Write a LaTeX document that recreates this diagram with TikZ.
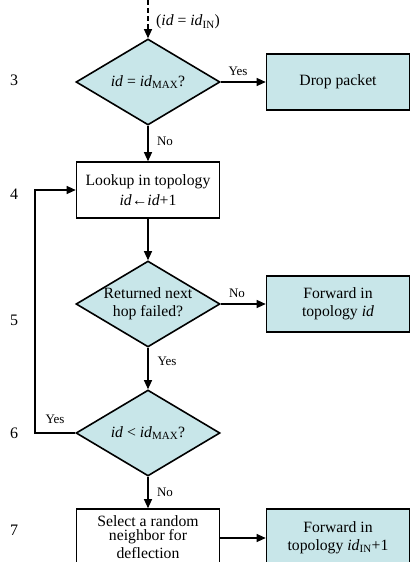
\documentclass[tikz,border=0pt]{standalone}
\usepackage{fontspec}
\setmainfont{Liberation Serif}
\usetikzlibrary{shapes.geometric,arrows.meta}
\definecolor{boxfill}{RGB}{200,230,233}
\begin{document}
\begin{tikzpicture}[x=1pt,y=-1pt,
  every node/.style={font=\fontsize{15.7}{18}\selectfont},
  proc/.style={draw, line width=1.6pt, minimum width=143pt, minimum height=56pt, inner sep=0pt, align=center},
  act/.style={proc, fill=boxfill},
  dec/.style={draw, line width=1.6pt, fill=boxfill, diamond, aspect=1.66, minimum width=144pt, minimum height=86pt, inner sep=-2pt, align=center},
  conn/.style={line width=1.1pt, -{Triangle[length=9pt,width=8pt]}},
  lbl/.style={font=\fontsize{13}{15}\selectfont, inner sep=0pt},
  num/.style={font=\fontsize{16}{18}\selectfont, inner sep=0pt}]
\useasboundingbox (0,0) rectangle (410,562);
\clip (0,0) rectangle (410,562);

% step numbers
\node[num] (n3) at (14,80) {3};
\node[num] (n4) at (14,194) {4};
\node[num] (n5) at (14,320) {5};
\node[num] (n6) at (14,433) {6};
\node[num] (n7) at (14,530) {7};

% nodes
\coordinate (start) at (148,0);
\node[dec] (d1) at (148,82) {\textit{id} = \textit{id}\textsubscript{MAX}?};
\node[act] (drop) at (338,82) {Drop packet};
\node[proc] (look) at (148,190) {Lookup in topology\\[2pt]\textit{id}←\textit{id}+1};
\node[dec] (d2) at (148,304) {Returned next\\hop failed?};
\node[act] (fwd1) at (338,304) {Forward in\\topology \textit{id}};
\node[dec] (d3) at (148,433) {\textit{id} {\textless} \textit{id}\textsubscript{MAX}?};
\node[proc, minimum height=58pt, font=\fontsize{15.7}{18.5}\selectfont] (sel) at (148,538) {\raisebox{2pt}{\shortstack{Select a random\\neighbor for\\deflection}}};
\node[act, minimum height=58pt] (fwd2) at (338,538) {Forward in\\topology \textit{id}\textsubscript{IN}+1};
\coordinate (loopB) at (35,433);
\coordinate (loopT) at (35,190);

% connectors
\draw[conn, dash pattern=on 5pt off 3pt] (start) -- (d1.north);
\draw[conn] (d1.east) -- (drop.west);
\draw[conn] (d1.south) -- (look.north);
\draw[conn] (look.south) -- (d2.north);
\draw[conn] (d2.east) -- (fwd1.west);
\draw[conn] (d2.south) -- (d3.north);
\draw[conn] (d3.west) -- (loopB) -- (loopT) -- (look.west);
\draw[conn] (d3.south) -- (sel.north);
\draw[conn] (sel.east) -- (fwd2.west);

% labels
\node[lbl, anchor=west] (lin) at (156,22) {\fontsize{15.7}{18}\selectfont(\textit{id} = \textit{id}\textsubscript{IN})};
\node[lbl] (y1) at (238,71) {Yes};
\node[lbl] (n1) at (165,141) {No};
\node[lbl] (n2) at (237,293) {No};
\node[lbl] (y2) at (167,361) {Yes};
\node[lbl] (y3) at (55,419) {Yes};
\node[lbl] (n3l) at (165,492) {No};
\end{tikzpicture}
\end{document}
